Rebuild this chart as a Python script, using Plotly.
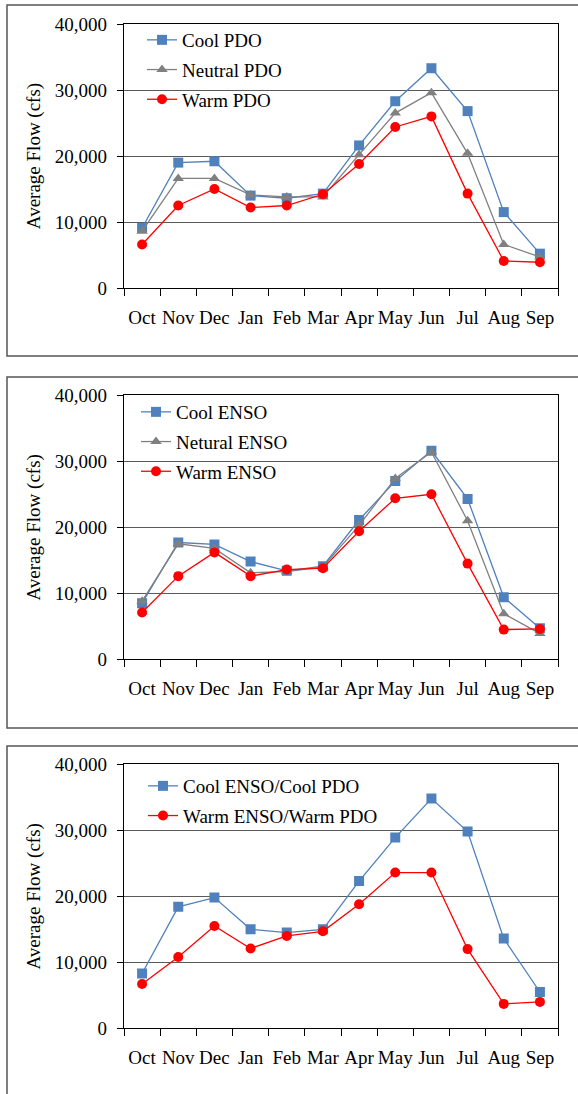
import plotly.graph_objects as go

# Monthly average flow (cfs), water year Oct-Sep
months = ["Oct", "Nov", "Dec", "Jan", "Feb", "Mar", "Apr", "May", "Jun", "Jul", "Aug", "Sep"]

cool_pdo = [9100, 19000, 19200, 14000, 13600, 14300, 21600, 28300, 33300, 26800, 11500, 5200]
neutral_pdo = [8600, 16600, 16600, 14100, 13800, 13800, 20200, 26500, 29600, 20400, 6600, 4700]
warm_pdo = [6600, 12500, 15000, 12200, 12500, 14200, 18800, 24400, 26000, 14300, 4100, 3900]

cool_enso = [8500, 17700, 17400, 14800, 13400, 14100, 21100, 27000, 31600, 24300, 9400, 4700]
neutral_enso = [8800, 17500, 16800, 13100, 13300, 14000, 20300, 27400, 31400, 21000, 6900, 3900]
warm_enso = [7100, 12600, 16200, 12600, 13600, 13800, 19400, 24400, 25000, 14500, 4500, 4600]

cool_cool = [8300, 18400, 19800, 15000, 14500, 15000, 22300, 28900, 34800, 29800, 13600, 5500]
warm_warm = [6700, 10800, 15500, 12100, 14000, 14700, 18800, 23600, 23600, 12000, 3700, 4000]

W, H = 578, 1094
FONT = "'Liberation Serif', 'Times New Roman', Times, 'DejaVu Serif', serif"
BLUE, GRAY, RED = "#4F81BD", "#808080", "#FF0000"


def px_x(p):
    return p / W


def px_y(p):
    return 1 - p / H


panels = [
    # (plot top px, plot bottom px, legend left px, legend top px, series)
    (24, 288, 142, 21, [
        ("Cool PDO", cool_pdo, BLUE, "square"),
        ("Neutral PDO", neutral_pdo, GRAY, "triangle-up"),
        ("Warm PDO", warm_pdo, RED, "circle"),
    ]),
    (395.3, 659.3, 136, 393, [
        ("Cool ENSO", cool_enso, BLUE, "square"),
        ("Netural ENSO", neutral_enso, GRAY, "triangle-up"),
        ("Warm ENSO", warm_enso, RED, "circle"),
    ]),
    (764.3, 1028.3, 143, 767, [
        ("Cool ENSO/Cool PDO", cool_cool, BLUE, "square"),
        ("Warm ENSO/Warm PDO", warm_warm, RED, "circle"),
    ]),
]

fig = go.Figure()
layout = dict(
    width=W, height=H,
    margin=dict(l=0, r=0, t=0, b=0, autoexpand=False),
    paper_bgcolor="white", plot_bgcolor="white",
    font=dict(family=FONT, size=19, color="black"),
    showlegend=True,
    shapes=[],
)

for i, (top, bottom, lx, ly, series) in enumerate(panels, start=1):
    sfx = "" if i == 1 else str(i)
    leg = "legend" if i == 1 else f"legend{i}"
    for name, vals, color, sym in series:
        fig.add_trace(go.Scatter(
            x=months, y=vals, name=name, mode="lines+markers",
            line=dict(color=color, width=1.3),
            marker=dict(color=color, symbol=sym, size=10, line=dict(width=0)),
            xaxis=f"x{sfx}", yaxis=f"y{sfx}", legend=leg, legendgroup=name,
        ))
    layout[f"xaxis{sfx}"] = dict(
        domain=[px_x(124), px_x(558)], anchor=f"y{sfx}",
        type="category", categoryorder="array", categoryarray=months,
        range=[-0.5, 11.5], tickson="boundaries", tickangle=0,
        ticks="outside", ticklen=7, tickwidth=1, tickcolor="black",
        showline=True, linecolor="black", linewidth=1.3, mirror=True,
        showgrid=False, ticklabelstandoff=12, automargin=False,
        tickfont=dict(family=FONT, size=19),
    )
    layout[f"yaxis{sfx}"] = dict(
        domain=[px_y(bottom), px_y(top)], anchor=f"x{sfx}",
        range=[0, 40000], dtick=10000, tickformat=",d",
        ticks="outside", ticklen=6, tickwidth=1, tickcolor="black",
        showline=True, linecolor="black", linewidth=1.3, mirror=True,
        showgrid=True, gridcolor="#5A5A5A", gridwidth=1.4, zeroline=False,
        ticklabelstandoff=6, automargin=False,
        tickfont=dict(family=FONT, size=19),
        title=dict(text="Average Flow (cfs)", font=dict(family=FONT, size=19), standoff=9),
    )
    layout[leg] = dict(
        x=px_x(lx), y=px_y(ly), xanchor="left", yanchor="top",
        bgcolor="rgba(0,0,0,0)", borderwidth=0,
        font=dict(family=FONT, size=19), tracegroupgap=2,
        itemclick=False,
    )

# Chart-area frames around each panel
for y0, y1 in [(5, 356), (377, 728), (746, 1110)]:
    layout["shapes"].append(dict(
        type="rect", xref="paper", yref="paper",
        x0=px_x(7), x1=px_x(600), y0=px_y(y1), y1=px_y(y0),
        line=dict(color="#555555", width=1.5), fillcolor="rgba(0,0,0,0)",
        layer="below",
    ))

fig.update_layout(**layout)
fig.write_html("out.html")
